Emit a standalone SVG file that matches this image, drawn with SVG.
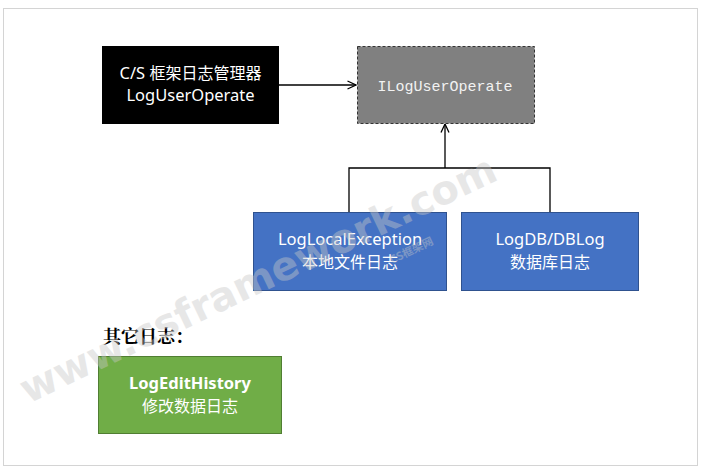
<svg xmlns="http://www.w3.org/2000/svg" width="701" height="471" viewBox="0 0 701 471">
<style>
.t{font-family:"Segoe UI","Noto Sans","Noto Sans CJK SC",sans-serif;font-size:16.5px;fill:#fff;text-anchor:middle}
.c{font-family:"Noto Sans CJK SC",sans-serif;font-size:16px;fill:#fff;text-anchor:middle}
.conn{fill:none;stroke:#000;stroke-width:1.3}
</style>
<defs>
<marker id="open" viewBox="0 0 10 10" refX="9.5" refY="5" markerWidth="10" markerHeight="10" markerUnits="userSpaceOnUse" orient="auto">
<path d="M1,1 L9.5,5 L1,9" fill="none" stroke="#000" stroke-width="1.3"/>
</marker>
</defs>
<rect width="701" height="471" fill="#fff"/>
<rect x="3.5" y="8.5" width="694" height="457" fill="none" stroke="#d4d4d4" stroke-width="1"/>
<g id="connectors">
<line class="conn" x1="279" y1="85" x2="356" y2="85" marker-end="url(#open)"/>
<polyline class="conn" points="349,212 349,168 550,168 550,212"/>
<line class="conn" x1="445" y1="168" x2="445" y2="124" marker-end="url(#open)"/>
</g>
<g id="manager">
<rect x="102" y="46" width="177" height="78" fill="#000"/>
<text class="t" x="190.5" y="79">C/S <tspan font-family="Noto Sans CJK SC,sans-serif" font-size="16">框架日志管理器</tspan></text>
<text class="t" x="190.5" y="101">LogUserOperate</text>
</g>
<g id="ilog">
<rect x="357.5" y="46.5" width="177" height="77" fill="#808080" stroke="#333" stroke-dasharray="3,2"/>
<text x="445" y="91" font-family="'Liberation Mono','DejaVu Sans Mono',monospace" font-size="15" fill="#f2f2f2" text-anchor="middle">ILogUserOperate</text>
</g>
<g id="local">
<rect x="253.5" y="212.5" width="193" height="78" fill="#4472C4" stroke="#2F528F"/>
<text class="t" x="350" y="245">LogLocalException</text>
<text class="c" x="350" y="268">本地文件日志</text>
</g>
<g id="db">
<rect x="461.5" y="212.5" width="177" height="78" fill="#4472C4" stroke="#2F528F"/>
<text class="t" x="550" y="245">LogDB/DBLog</text>
<text class="c" x="550" y="268">数据库日志</text>
</g>
<text x="103" y="343" font-family="'Noto Serif CJK SC','Noto Sans CJK SC',serif" font-size="18" font-weight="bold" fill="#000">其它日志：</text>
<g id="edit">
<rect x="98.5" y="356.5" width="183" height="77" fill="#70AD47" stroke="#507E32"/>
<text class="t" x="190" y="389" font-weight="bold">LogEditHistory</text>
<text class="c" x="190" y="412">修改数据日志</text>
</g>
<g id="watermark" opacity="0.42" fill="#c8c8c8">
<text transform="translate(28,404) rotate(-25.5)" font-family="Verdana,'DejaVu Sans',sans-serif" font-size="40" font-weight="bold">www.csframework.com</text>
<text transform="translate(392,264) rotate(-25.5)" font-family="'Noto Sans CJK SC',sans-serif" font-size="11" font-weight="bold">CS框架网</text>
</g>
</svg>
